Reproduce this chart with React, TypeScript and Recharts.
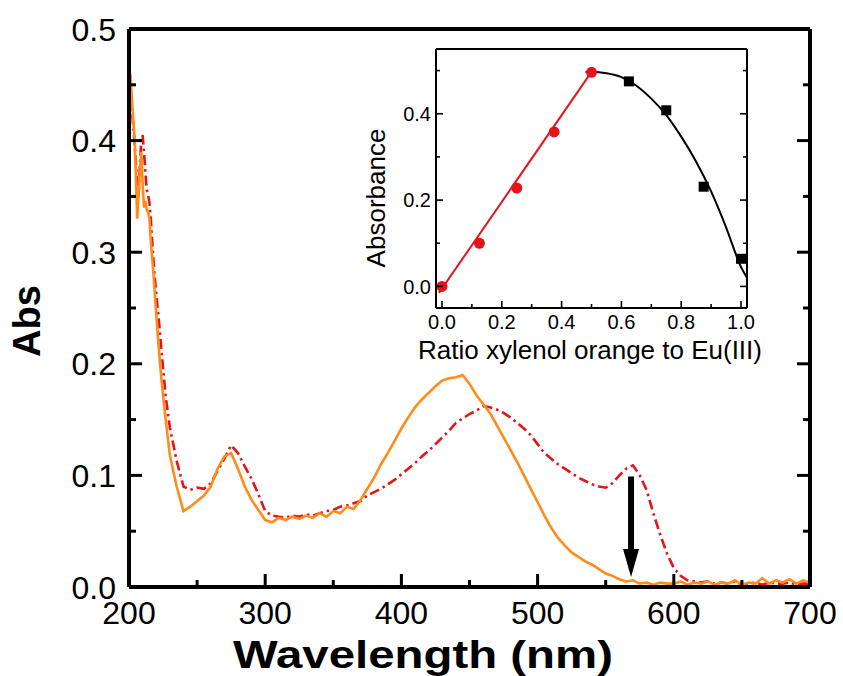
import React from "react";
import {
  ComposedChart,
  Line,
  Scatter,
  XAxis,
  YAxis,
  ReferenceLine,
  ReferenceDot,
} from "recharts";

const FONT = "'Liberation Sans', Arial, Helvetica, sans-serif";
const ORANGE = "#ff8c1a";
const RED = "#e5141b";

// main spectra (nm, Abs)
const wavelength = [
  200, 201, 202, 203, 204, 205, 206, 207, 208, 209, 210, 211, 212, 213, 214, 215, 216, 217, 218, 219,
  220, 221, 222, 223, 224, 225, 226, 227, 230, 235, 240, 245, 250, 255, 260, 265, 270, 275, 280, 285,
  290, 295, 300, 305, 310, 315, 320, 325, 330, 335, 340, 345, 350, 355, 360, 365, 370, 375, 380, 385,
  390, 395, 400, 405, 410, 415, 420, 425, 430, 435, 440, 445, 450, 455, 460, 465, 470, 475, 480, 485,
  490, 495, 500, 505, 510, 515, 520, 525, 530, 535, 540, 545, 550, 555, 560, 565, 570, 575, 580, 585,
  590, 595, 600, 605, 610, 615, 620, 625, 630, 635, 640, 645, 650, 655, 660, 665, 670, 675, 680, 685,
  690, 695, 700,
];

const orangeAbs = [
  0.39, 0.46, 0.44, 0.42, 0.405, 0.37, 0.33, 0.35, 0.372, 0.39, 0.362, 0.34, 0.346, 0.338, 0.336, 0.33, 0.31, 0.295, 0.28, 0.262,
  0.245, 0.228, 0.212, 0.197, 0.184, 0.172, 0.16, 0.149, 0.118, 0.09, 0.068, 0.072, 0.077, 0.082, 0.09, 0.106, 0.117, 0.12, 0.106, 0.09,
  0.078, 0.069, 0.06, 0.058, 0.062, 0.06, 0.063, 0.061, 0.064, 0.062, 0.066, 0.063, 0.068, 0.066, 0.072, 0.07, 0.078, 0.088, 0.098, 0.11,
  0.12, 0.131, 0.142, 0.152, 0.161, 0.168, 0.174, 0.18, 0.185, 0.187, 0.188, 0.19, 0.182, 0.172, 0.164, 0.156, 0.145, 0.134, 0.123, 0.112,
  0.1, 0.088, 0.076, 0.064, 0.053, 0.044, 0.037, 0.031, 0.027, 0.023, 0.02, 0.016, 0.012, 0.01, 0.007, 0.005, 0.006, 0.003, 0.004, 0.002,
  0.004, 0.003, 0.003, 0.005, 0.002, 0.004, 0.003, 0.005, 0.002, 0.004, 0.003, 0.006, 0.002, 0.004, 0.003, 0.008, 0.003, 0.006, 0.004, 0.007,
  0.003, 0.006, 0.004,
];

const redAbs = [
  0.46, 0.45, 0.43, 0.415, 0.4, 0.38, 0.362, 0.35, 0.378, 0.4, 0.405, 0.39, 0.372, 0.356, 0.352, 0.344, 0.33, 0.31, 0.292, 0.276,
  0.264, 0.25, 0.238, 0.224, 0.21, 0.196, 0.183, 0.17, 0.143, 0.113, 0.09, 0.087, 0.089, 0.088, 0.093, 0.104, 0.115, 0.127, 0.12, 0.108,
  0.097, 0.083, 0.068, 0.064, 0.063, 0.062, 0.064, 0.063, 0.065, 0.064, 0.066, 0.068, 0.069, 0.072, 0.073, 0.075, 0.077, 0.082, 0.085, 0.088,
  0.092, 0.096, 0.101, 0.106, 0.111, 0.117, 0.122, 0.128, 0.134, 0.14, 0.147, 0.151, 0.155, 0.158, 0.162, 0.161, 0.159, 0.156, 0.152, 0.147,
  0.142, 0.136, 0.128, 0.12, 0.115, 0.11, 0.106, 0.102, 0.098, 0.095, 0.092, 0.09, 0.089, 0.093, 0.1, 0.106, 0.109, 0.1, 0.087, 0.066,
  0.047, 0.03, 0.017, 0.01, 0.006, 0.005, 0.004, 0.005, 0.003, 0.004, 0.003, 0.005, 0.002, 0.003, 0.004, 0.002, 0.004, 0.003, 0.003, 0.004,
  0.002, 0.003, 0.003,
];

const xTicks = [200, 250, 300, 350, 400, 450, 500, 550, 600, 650, 700];
const xMajor = [200, 300, 400, 500, 600, 700];
const yTicks = [0, 0.05, 0.1, 0.15, 0.2, 0.25, 0.3, 0.35, 0.4, 0.45, 0.5];
const yMajor = [0, 0.1, 0.2, 0.3, 0.4, 0.5];

// arrow at the 570 nm band
const arrowX = 568.6;
const arrowTop = 0.099;
const arrowTip = 0.009;

// inset: Job's plot
const ratioRed = [0, 0.125, 0.25, 0.375, 0.5];
const absRed = [0, 0.1, 0.228, 0.358, 0.496];
const ratioBlack = [0.625, 0.75, 0.875, 1.0];
const absBlack = [0.475, 0.408, 0.231, 0.064];
const linFitX = [-0.01, 0.5];
const linFitY = [-0.015, 0.497];
const curveX = [0.48, 0.5, 0.55, 0.6, 0.65, 0.7, 0.75, 0.8, 0.85, 0.9, 0.95, 1.0, 1.02];
const curveY = [0.497, 0.497, 0.494, 0.485, 0.465, 0.435, 0.397, 0.347, 0.289, 0.22, 0.137, 0.045, 0.02];

const insetXTicks = [0, 0.1, 0.2, 0.3, 0.4, 0.5, 0.6, 0.7, 0.8, 0.9, 1.0];
const insetXMajor = [0, 0.2, 0.4, 0.6, 0.8, 1.0];
const insetYTicks = [0, 0.1, 0.2, 0.3, 0.4, 0.5];
const insetYMajor = [0, 0.2, 0.4];

type Side = "bottom" | "top" | "left" | "right";

interface TickOpts {
  major: number[];
  big: number;
  small: number;
  sw: number;
  fontSize?: number;
  gap?: number;
  fmt?: (v: number) => string;
}

// ticks drawn inward, labels outside
function makeTick(side: Side, o: TickOpts) {
  return (props: any) => {
    const { x, y, payload } = props;
    const v = payload.value as number;
    const isMajor = o.major.some((m) => Math.abs(m - v) < 1e-6);
    const len = isMajor ? o.big : o.small;
    let x2 = x;
    let y2 = y;
    if (side === "bottom") y2 = y - len;
    if (side === "top") y2 = y + len;
    if (side === "left") x2 = x + len;
    if (side === "right") x2 = x - len;
    let label = null;
    if (isMajor && o.fontSize && o.fmt) {
      if (side === "bottom") {
        label = (
          <text x={x} y={y + (o.gap || 0)} textAnchor="middle" fontSize={o.fontSize} fontFamily={FONT} fill="#000">
            {o.fmt(v)}
          </text>
        );
      } else if (side === "left") {
        label = (
          <text x={x - (o.gap || 0)} y={y} dy="0.36em" textAnchor="end" fontSize={o.fontSize} fontFamily={FONT} fill="#000">
            {o.fmt(v)}
          </text>
        );
      }
    }
    return (
      <g>
        <line x1={x} y1={y} x2={x2} y2={y2} stroke="#000" strokeWidth={o.sw} />
        {label}
      </g>
    );
  };
}

const mainTick = { big: 13, small: 7, sw: 3 };
const insetTick = { big: 7, small: 4, sw: 1.6 };

function ArrowHead(props: any) {
  const { cx, cy } = props;
  if (cx == null || cy == null) return null;
  return <polygon points={`${cx},${cy} ${cx - 8},${cy - 28} ${cx + 8},${cy - 28}`} fill="#000" />;
}

function SquareDot(props: any) {
  const { cx, cy } = props;
  return <rect x={cx - 5} y={cy - 5} width={10} height={10} fill="#000" />;
}

function RoundDot(props: any) {
  const { cx, cy } = props;
  return <circle cx={cx} cy={cy} r={5.5} fill={RED} />;
}

function Inset() {
  const redPts = ratioRed.map((x, i) => ({ x, y: absRed[i] }));
  const blackPts = ratioBlack.map((x, i) => ({ x, y: absBlack[i] }));
  const linFit = linFitX.map((x, i) => ({ x, y: linFitY[i] }));
  const curve = curveX.map((x, i) => ({ x, y: curveY[i] }));
  const fmt = (v: number) => v.toFixed(1);
  return (
    <ComposedChart width={450} height={335} margin={{ top: 8, right: 42, bottom: 66, left: 95 }}>
      <XAxis
        xAxisId="b"
        dataKey="x"
        type="number"
        domain={[-0.02, 1.02]}
        allowDataOverflow
        ticks={insetXTicks}
        interval={0}
        height={1}
        tickSize={0}
        tickMargin={0}
        tickLine={false}
        axisLine={{ stroke: "#000", strokeWidth: 2 }}
        tick={makeTick("bottom", { ...insetTick, major: insetXMajor, fontSize: 20, gap: 21, fmt })}
        label={{
          content: () => (
            <text x={590 - 340} y={359 - 40} textAnchor="middle" fontSize={26} fontFamily={FONT} fill="#000">
              Ratio xylenol orange to Eu(III)
            </text>
          ),
        }}
      />
      <XAxis
        xAxisId="t"
        orientation="top"
        type="number"
        domain={[-0.02, 1.02]}
        allowDataOverflow
        ticks={insetXTicks}
        interval={0}
        height={1}
        tickSize={0}
        tickMargin={0}
        tickLine={false}
        axisLine={{ stroke: "#000", strokeWidth: 2 }}
        tick={makeTick("top", { ...insetTick, major: insetXMajor })}
      />
      <YAxis
        yAxisId="l"
        dataKey="y"
        type="number"
        domain={[-0.05, 0.55]}
        allowDataOverflow
        ticks={insetYTicks}
        interval={0}
        width={1}
        tickSize={0}
        tickMargin={0}
        tickLine={false}
        axisLine={{ stroke: "#000", strokeWidth: 2 }}
        tick={makeTick("left", { ...insetTick, major: insetYMajor, fontSize: 20, gap: 5, fmt })}
        label={{
          content: () => (
            <text
              x={385 - 340}
              y={198 - 40}
              transform={`rotate(-90, ${385 - 340}, ${198 - 40})`}
              textAnchor="middle"
              fontSize={26}
              fontFamily={FONT}
              fill="#000"
            >
              Absorbance
            </text>
          ),
        }}
      />
      <YAxis
        yAxisId="r"
        orientation="right"
        type="number"
        domain={[-0.05, 0.55]}
        allowDataOverflow
        ticks={insetYTicks}
        interval={0}
        width={1}
        tickSize={0}
        tickMargin={0}
        tickLine={false}
        axisLine={{ stroke: "#000", strokeWidth: 2 }}
        tick={makeTick("right", { ...insetTick, major: insetYMajor })}
      />
      <Line
        xAxisId="b"
        yAxisId="l"
        data={linFit}
        dataKey="y"
        stroke={RED}
        strokeWidth={2}
        dot={false}
        isAnimationActive={false}
      />
      <Line
        xAxisId="b"
        yAxisId="l"
        data={curve}
        dataKey="y"
        type="monotone"
        stroke="#000"
        strokeWidth={2}
        dot={false}
        isAnimationActive={false}
      />
      <Scatter xAxisId="b" yAxisId="l" data={redPts} fill={RED} shape={RoundDot} isAnimationActive={false} />
      <Scatter xAxisId="b" yAxisId="l" data={blackPts} fill="#000" shape={SquareDot} isAnimationActive={false} />
    </ComposedChart>
  );
}

export default function App() {
  const data = wavelength.map((w, i) => ({ w, orange: orangeAbs[i], red: redAbs[i] }));
  const fmtX = (v: number) => String(v);
  const fmtY = (v: number) => v.toFixed(1);
  return (
    <div style={{ position: "relative", width: 843, height: 676, background: "#fff", overflow: "hidden" }}>
      <style>{"body{margin:0}"}</style>
      <ComposedChart width={843} height={676} data={data} margin={{ top: 28, right: 32, bottom: 88, left: 128 }}>
        <XAxis
          xAxisId="b"
          dataKey="w"
          type="number"
          domain={[200, 700]}
          allowDataOverflow
          ticks={xTicks}
          interval={0}
          height={1}
          tickSize={0}
          tickMargin={0}
          tickLine={false}
          axisLine={{ stroke: "#000", strokeWidth: 4 }}
          tick={makeTick("bottom", { ...mainTick, major: xMajor, fontSize: 32, gap: 37, fmt: fmtX })}
          label={{
            content: () => (
              <text
                x={423}
                y={668}
                textAnchor="middle"
                fontSize={39}
                fontWeight="bold"
                fontFamily={FONT}
                fill="#000"
                textLength={380}
                lengthAdjust="spacingAndGlyphs"
              >
                Wavelength (nm)
              </text>
            ),
          }}
        />
        <XAxis
          xAxisId="t"
          orientation="top"
          type="number"
          domain={[200, 700]}
          allowDataOverflow
          ticks={xTicks}
          interval={0}
          height={1}
          tickSize={0}
          tickMargin={0}
          tickLine={false}
          axisLine={{ stroke: "#000", strokeWidth: 4 }}
          tick={makeTick("top", { ...mainTick, major: xMajor })}
        />
        <YAxis
          yAxisId="l"
          type="number"
          domain={[0, 0.5]}
          allowDataOverflow
          ticks={yTicks}
          interval={0}
          width={1}
          tickSize={0}
          tickMargin={0}
          tickLine={false}
          axisLine={{ stroke: "#000", strokeWidth: 4 }}
          tick={makeTick("left", { ...mainTick, major: yMajor, fontSize: 32, gap: 13, fmt: fmtY })}
          label={{
            content: () => (
              <text
                x={40}
                y={321}
                transform="rotate(-90, 40, 321)"
                textAnchor="middle"
                fontSize={38}
                fontWeight="bold"
                fontFamily={FONT}
                fill="#000"
              >
                Abs
              </text>
            ),
          }}
        />
        <YAxis
          yAxisId="r"
          orientation="right"
          type="number"
          domain={[0, 0.5]}
          allowDataOverflow
          ticks={yTicks}
          interval={0}
          width={1}
          tickSize={0}
          tickMargin={0}
          tickLine={false}
          axisLine={{ stroke: "#000", strokeWidth: 4 }}
          tick={makeTick("right", { ...mainTick, major: yMajor })}
        />
        <Line
          xAxisId="b"
          yAxisId="l"
          dataKey="red"
          type="linear"
          stroke={RED}
          strokeWidth={2.6}
          strokeDasharray="10 4 2.5 4"
          dot={false}
          isAnimationActive={false}
        />
        <Line
          xAxisId="b"
          yAxisId="l"
          dataKey="orange"
          type="linear"
          stroke={ORANGE}
          strokeWidth={2.6}
          dot={false}
          isAnimationActive={false}
        />
        <ReferenceLine
          xAxisId="b"
          yAxisId="l"
          segment={[
            { x: arrowX, y: arrowTop },
            { x: arrowX, y: 0.034 },
          ]}
          stroke="#000"
          strokeWidth={6}
        />
        <ReferenceDot xAxisId="b" yAxisId="l" x={arrowX} y={arrowTip} shape={ArrowHead} />
      </ComposedChart>
      <div style={{ position: "absolute", left: 340, top: 40 }}>
        <Inset />
      </div>
    </div>
  );
}
